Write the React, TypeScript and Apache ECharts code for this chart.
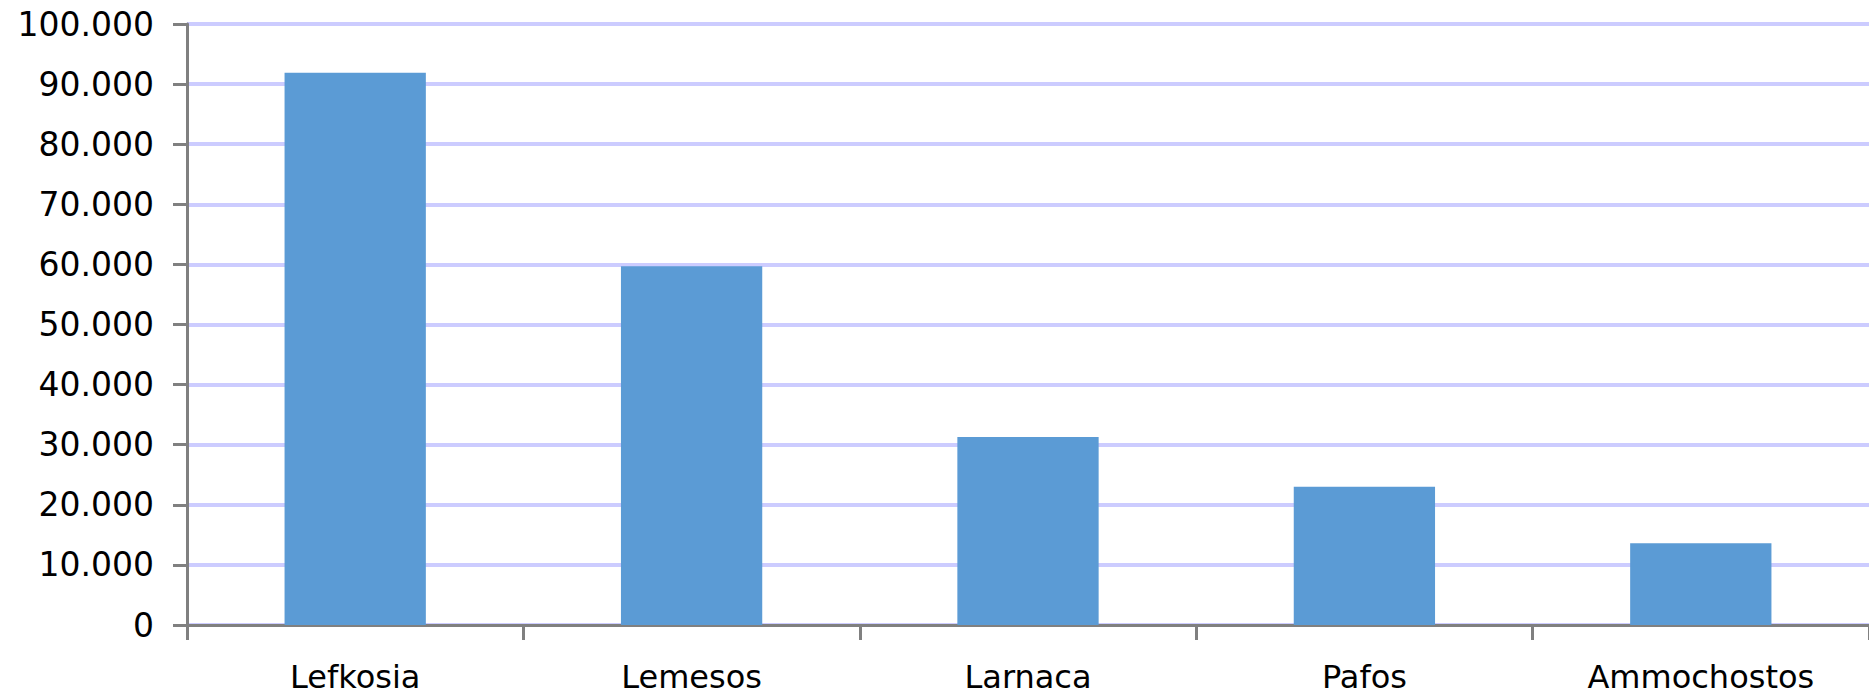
import React, { useEffect, useRef } from "react";
import * as echarts from "echarts";

const categories = ["Lefkosia", "Lemesos", "Larnaca", "Pafos", "Ammochostos"];
const values = [91900, 59700, 31300, 23000, 13600];
const yMax = 100000;
const yStep = 10000;

function fmt(v: number): string {
  return String(Math.round(v)).replace(/\B(?=(\d{3})+(?!\d))/g, ".");
}

export default function App() {
  const ref = useRef<HTMLDivElement>(null);
  useEffect(() => {
    if (!ref.current) return;
    const chart = echarts.init(ref.current, null, { renderer: "svg" });
    chart.setOption({
      animation: false,
      backgroundColor: "#ffffff",
      grid: { left: 187, right: -4, top: 24, bottom: 73, containLabel: false },
      xAxis: {
        type: "category",
        data: categories,
        boundaryGap: true,
        axisLine: { lineStyle: { color: "#808080", width: 3 } },
        axisTick: { show: true, length: 15, lineStyle: { color: "#808080", width: 3 } },
        axisLabel: {
          margin: 36,
          fontFamily: "DejaVu Sans",
          fontSize: 32,
          lineHeight: 32,
          color: "#000000",
          interval: 0,
        },
        splitLine: { show: false },
      },
      yAxis: {
        type: "value",
        min: 0,
        max: yMax,
        interval: yStep,
        axisLine: { show: true, lineStyle: { color: "#808080", width: 3 } },
        axisTick: { show: true, length: 14, lineStyle: { color: "#808080", width: 3 } },
        axisLabel: {
          margin: 33,
          fontFamily: "DejaVu Sans",
          fontSize: 33,
          color: "#000000",
          formatter: (v: number) => fmt(v),
        },
        splitLine: { show: true, lineStyle: { color: "#ccccff", width: 4 } },
      },
      series: [
        {
          type: "bar",
          data: values,
          barWidth: "42%",
          itemStyle: { color: "#5b9bd5" },
        },
      ],
    });
    return () => chart.dispose();
  }, []);
  return (
    <div
      ref={ref}
      style={{ position: "absolute", left: 0, top: 0, width: 1869, height: 698 }}
    />
  );
}
